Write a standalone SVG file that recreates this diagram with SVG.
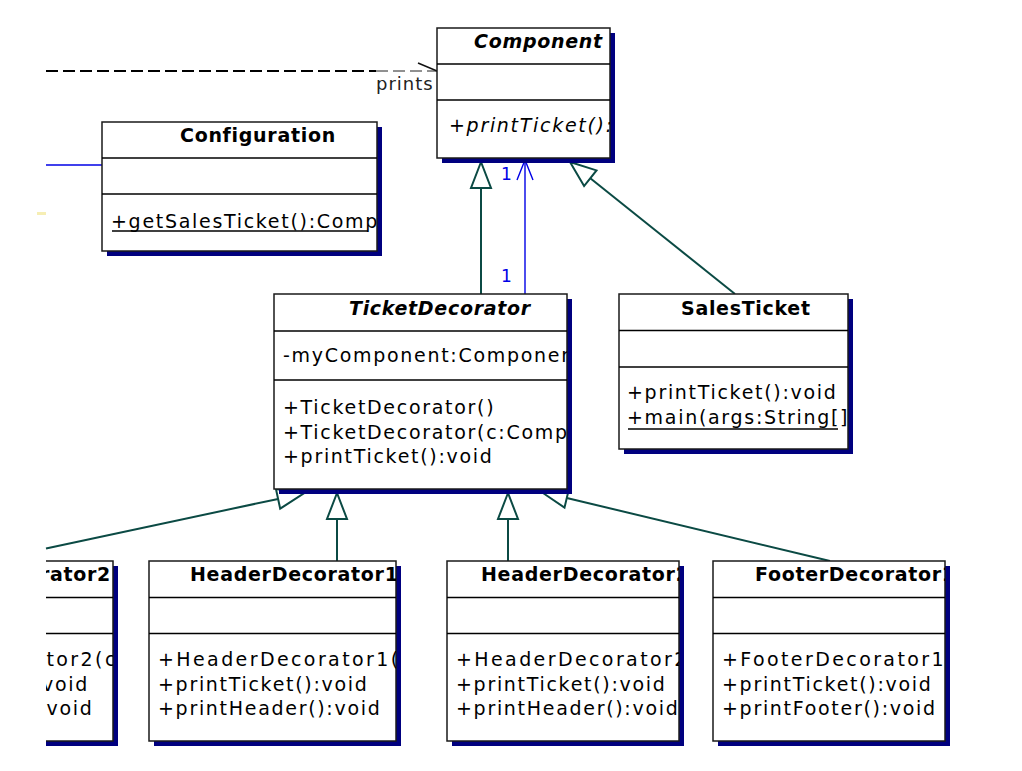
<svg xmlns="http://www.w3.org/2000/svg" width="1022" height="771" viewBox="0 0 1022 771">
  <style>
    .box { fill: #ffffff; stroke: #1a1a1a; stroke-width: 1.5; }
    .shadow { fill: #00007f; stroke: none; }
    .div { stroke: #000000; stroke-width: 1.5; }
    .title { font-family: "DejaVu Sans", "Liberation Sans", sans-serif; font-size: 19px; font-weight: bold; letter-spacing: 0.7px; fill: #000; }
    .abs { font-style: italic; }
    .mem { font-family: "DejaVu Sans", "Liberation Sans", sans-serif; font-size: 19px; letter-spacing: 1.7px; fill: #000; }
    .ctor { letter-spacing: 2.4px; }
    .ul { stroke: #000; stroke-width: 1.6; }
    .gen { stroke: #0b4a44; stroke-width: 2; fill: none; }
    .tri { stroke: #0b4a44; stroke-width: 2; fill: #ffffff; stroke-linejoin: miter; }
    .assoc { stroke: #0000e6; stroke-width: 1.4; fill: none; }
    .mult { font-family: "DejaVu Sans", "Liberation Sans", sans-serif; font-size: 17px; fill: #0000e6; }
    .dep { stroke: #000; stroke-width: 2; stroke-dasharray: 12 5; fill: none; }
    .dep-thin { stroke: #222; stroke-width: 1; stroke-dasharray: 12 5; fill: none; }
    .lbl { font-family: "DejaVu Sans", "Liberation Sans", sans-serif; font-size: 18px; letter-spacing: 1px; fill: #222; }
  </style>
  <defs>
    <clipPath id="clip-left"><rect x="46" y="0" width="976" height="771"/></clipPath>
    <clipPath id="clip-component"><rect x="437" y="28" width="173" height="130"/></clipPath>
    <clipPath id="clip-config"><rect x="102" y="122" width="275" height="129"/></clipPath>
    <clipPath id="clip-ticketdec"><rect x="274" y="294" width="293" height="195"/></clipPath>
    <clipPath id="clip-sales"><rect x="619" y="294" width="229" height="155"/></clipPath>
    <clipPath id="clip-footer2"><rect x="46" y="561" width="67" height="180"/></clipPath>
    <clipPath id="clip-header1"><rect x="149" y="561" width="247" height="180"/></clipPath>
    <clipPath id="clip-header2"><rect x="447" y="561" width="232" height="180"/></clipPath>
    <clipPath id="clip-footer1"><rect x="713" y="561" width="232" height="180"/></clipPath>
  </defs>

  <rect x="0" y="0" width="1022" height="771" fill="#ffffff"/>

  <!-- connectors -->
  <g id="connectors">
    <!-- dependency "prints" into Component -->
    <line class="dep" x1="46" y1="71" x2="376" y2="71"/>
    <line class="dep-thin" x1="376" y1="71" x2="437" y2="71"/>
    <line stroke="#111" stroke-width="1.5" x1="418" y1="63" x2="437" y2="71"/>
    <text class="lbl" x="376" y="90">prints</text>

    <!-- association into Configuration -->
    <line class="assoc" x1="46" y1="165" x2="102" y2="165"/>
    <rect x="37" y="212" width="9" height="3" fill="#f6eeb4"/>

    <!-- TicketDecorator generalizes Component -->
    <line class="gen" stroke-width="1.2" x1="481" y1="294" x2="481" y2="188"/>
    <polygon class="tri" points="481,162 471,188 491,188"/>

    <!-- TicketDecorator -> Component association -->
    <line class="assoc" x1="525" y1="294" x2="525" y2="160"/>
    <polyline class="assoc" points="517,180 525,160 533,180"/>
    <text class="mult" x="501" y="180">1</text>
    <text class="mult" x="501" y="282">1</text>

    <!-- SalesTicket generalizes Component -->
    <line class="gen" x1="735" y1="294" x2="590.3" y2="178.2"/>
    <polygon class="tri" points="570,162 596.5,170.4 584.1,186"/>

    <!-- decorators generalize TicketDecorator -->
    <line class="gen" x1="46" y1="548.6" x2="278.1" y2="498.9"/>
    <polygon class="tri" points="303.5,493.5 276,489.1 280.2,508.7"/>

    <line class="gen" x1="337" y1="561" x2="337" y2="519"/>
    <polygon class="tri" points="337,493 327,519 347,519"/>

    <line class="gen" x1="508" y1="561" x2="508" y2="519"/>
    <polygon class="tri" points="508,493 498,519 518,519"/>

    <line class="gen" x1="830" y1="561" x2="566.8" y2="498"/>
    <polygon class="tri" points="541.5,492 569.1,488.3 564.5,507.7"/>
  </g>

  <!-- Component -->
  <g id="component">
    <rect class="shadow" x="442" y="33" width="173" height="130"/>
    <rect class="box" x="437" y="28" width="173" height="130"/>
    <line class="div" x1="437" y1="64" x2="610" y2="64"/>
    <line class="div" x1="437" y1="100" x2="610" y2="100"/>
    <g clip-path="url(#clip-component)">
      <text class="title abs" x="474" y="48">Component</text>
      <text class="mem abs" x="449" y="132">+printTicket():v</text>
    </g>
  </g>

  <!-- Configuration -->
  <g id="configuration">
    <rect class="shadow" x="107" y="127" width="275" height="129"/>
    <rect class="box" x="102" y="122" width="275" height="129"/>
    <line class="div" x1="102" y1="158" x2="377" y2="158"/>
    <line class="div" x1="102" y1="194" x2="377" y2="194"/>
    <g clip-path="url(#clip-config)">
      <text class="title" x="180" y="142">Configuration</text>
      <text class="mem" x="111" y="228" letter-spacing="1.45">+getSalesTicket():Compo</text>
    </g>
    <line class="ul" x1="112" y1="231" x2="368" y2="231" stroke-width="2"/>
  </g>

  <!-- TicketDecorator -->
  <g id="ticket-decorator">
    <rect class="shadow" x="279" y="299" width="293" height="195"/>
    <rect class="box" x="274" y="294" width="293" height="195"/>
    <line class="div" x1="274" y1="331" x2="567" y2="331"/>
    <line class="div" x1="274" y1="380" x2="567" y2="380"/>
    <g clip-path="url(#clip-ticketdec)">
      <text class="title abs" x="349" y="315">TicketDecorator</text>
      <text class="mem" x="283" y="362">-myComponent:Componen</text>
      <text class="mem" x="283" y="414">+TicketDecorator()</text>
      <text class="mem" x="283" y="438.5">+TicketDecorator(c:Compo</text>
      <text class="mem" x="283" y="463">+printTicket():void</text>
    </g>
  </g>

  <!-- SalesTicket -->
  <g id="sales-ticket">
    <rect class="shadow" x="624" y="299" width="229" height="155"/>
    <rect class="box" x="619" y="294" width="229" height="155"/>
    <line class="div" x1="619" y1="330.5" x2="848" y2="330.5"/>
    <line class="div" x1="619" y1="367" x2="848" y2="367"/>
    <g clip-path="url(#clip-sales)">
      <text class="title" x="681" y="315">SalesTicket</text>
      <text class="mem" x="627" y="399">+printTicket():void</text>
      <text class="mem" x="627" y="424">+main(args:String[]</text>
    </g>
    <line class="ul" x1="628" y1="429" x2="838" y2="429" stroke-width="1.4"/>
  </g>

  <!-- FooterDecorator2 (runs past the left edge) -->
  <g id="footer-decorator-2" clip-path="url(#clip-left)">
    <rect class="shadow" x="-132" y="566" width="250" height="180"/>
    <rect class="box" x="-137" y="561" width="250" height="180"/>
    <line class="div" x1="-137" y1="597.5" x2="113" y2="597.5"/>
    <line class="div" x1="-137" y1="633.5" x2="113" y2="633.5"/>
    <g clip-path="url(#clip-footer2)">
      <text class="title" x="111" y="581" text-anchor="end">rator2</text>
      <text class="mem ctor" x="46.5" y="666">tor2(c</text>
      <text class="mem" x="42" y="691">void</text>
      <text class="mem" x="46.5" y="715">void</text>
    </g>
  </g>

  <!-- HeaderDecorator1 -->
  <g id="header-decorator-1">
    <rect class="shadow" x="154" y="566" width="247" height="180"/>
    <rect class="box" x="149" y="561" width="247" height="180"/>
    <line class="div" x1="149" y1="597.5" x2="396" y2="597.5"/>
    <line class="div" x1="149" y1="633.5" x2="396" y2="633.5"/>
    <g clip-path="url(#clip-header1)">
      <text class="title" x="190" y="581">HeaderDecorator1</text>
      <text class="mem ctor" x="158" y="666">+HeaderDecorator1(c</text>
      <text class="mem" x="158" y="691">+printTicket():void</text>
      <text class="mem" x="158" y="715">+printHeader():void</text>
    </g>
  </g>

  <!-- HeaderDecorator2 -->
  <g id="header-decorator-2">
    <rect class="shadow" x="452" y="566" width="232" height="180"/>
    <rect class="box" x="447" y="561" width="232" height="180"/>
    <line class="div" x1="447" y1="597.5" x2="679" y2="597.5"/>
    <line class="div" x1="447" y1="633.5" x2="679" y2="633.5"/>
    <g clip-path="url(#clip-header2)">
      <text class="title" x="481" y="581">HeaderDecorator2</text>
      <text class="mem ctor" x="456" y="666">+HeaderDecorator2(</text>
      <text class="mem" x="456" y="691">+printTicket():void</text>
      <text class="mem" x="456" y="715">+printHeader():void</text>
    </g>
  </g>

  <!-- FooterDecorator1 -->
  <g id="footer-decorator-1">
    <rect class="shadow" x="718" y="566" width="232" height="180"/>
    <rect class="box" x="713" y="561" width="232" height="180"/>
    <line class="div" x1="713" y1="597.5" x2="945" y2="597.5"/>
    <line class="div" x1="713" y1="633.5" x2="945" y2="633.5"/>
    <g clip-path="url(#clip-footer1)">
      <text class="title" x="755" y="581">FooterDecorator1</text>
      <text class="mem ctor" x="722" y="666">+FooterDecorator1(c</text>
      <text class="mem" x="722" y="691">+printTicket():void</text>
      <text class="mem" x="722" y="715">+printFooter():void</text>
    </g>
  </g>
</svg>
